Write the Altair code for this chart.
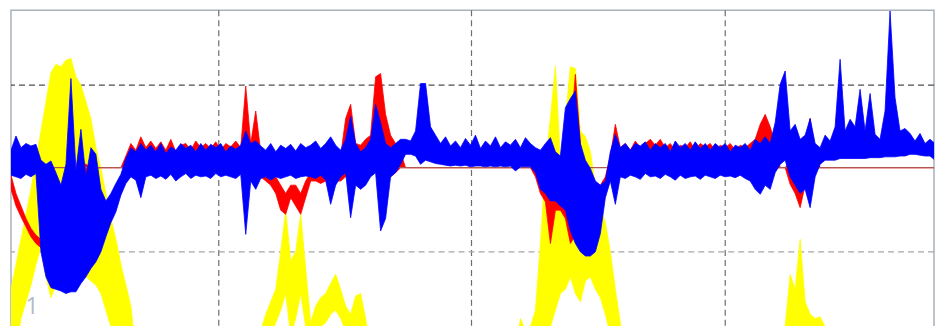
import altair as alt
import pandas as pd

# ---------------- data ----------------
# Signal columns every 5 time units (t = 0, 5, ..., 925).
# For every column: the local maximum ("hi") and local minimum ("lo") of the
# rapidly oscillating trace.  Values are in signal units (grid lines at +1 / -1).
STEP = 5

BLUE_HI = [
    0.22, 0.39, 0.25, 0.30, 0.27, 0.29, 0.10, 0.05, 0.09, -0.05,
    -0.20, 0.05, 1.08, -0.02, 0.47, -0.10, 0.25, 0.17, -0.25, -0.39,
    -0.30, -0.18, -0.07, 0.12, 0.25, 0.20, 0.30, 0.22, 0.28, 0.20,
    0.30, 0.18, 0.26, 0.22, 0.30, 0.24, 0.28, 0.20, 0.30, 0.22,
    0.29, 0.25, 0.30, 0.20, 0.27, 0.23, 0.28, 0.45, 0.30, 0.33,
    0.27, 0.22, 0.30, 0.20, 0.28, 0.24, 0.29, 0.21, 0.30, 0.25,
    0.28, 0.33, 0.24, 0.30, 0.38, 0.28, 0.22, 0.35, 0.63, 0.30,
    0.20, 0.25, 0.35, 0.77, 0.55, 0.30, 0.25, 0.30, 0.35, 0.35,
    0.33, 0.45, 1.02, 1.02, 0.50, 0.40, 0.30, 0.38, 0.27, 0.33,
    0.25, 0.36, 0.28, 0.40, 0.24, 0.33, 0.27, 0.38, 0.25, 0.32,
    0.28, 0.35, 0.25, 0.37, 0.30, 0.25, 0.22, 0.30, 0.37, 0.20,
    0.15, 0.73, 0.84, 0.93, 0.30, 0.10, 0.00, -0.15, -0.20, -0.15,
    0.20, 0.41, 0.25, 0.30, 0.22, 0.30, 0.27, 0.32, 0.22, 0.30,
    0.25, 0.30, 0.20, 0.33, 0.25, 0.30, 0.22, 0.32, 0.24, 0.30,
    0.22, 0.30, 0.25, 0.30, 0.20, 0.28, 0.25, 0.30, 0.22, 0.35,
    0.30, 0.38, 0.30, 0.55, 1.01, 1.17, 0.45, 0.53, 0.35, 0.40,
    0.60, 0.30, 0.25, 0.40, 0.33, 0.50, 1.31, 0.45, 0.59, 0.50,
    0.95, 0.45, 0.90, 0.41, 0.35, 0.69, 1.89, 0.85, 0.45, 0.48,
    0.42, 0.33, 0.42, 0.30, 0.35, 0.30,
]
BLUE_LO = [
    -0.08, -0.10, -0.12, -0.07, -0.10, -0.06, -1.00, -1.30, -1.43, -1.45,
    -1.47, -1.50, -1.48, -1.48, -1.38, -1.30, -1.20, -1.12, -1.00, -0.82,
    -0.65, -0.52, -0.32, -0.18, -0.10, -0.14, -0.35, -0.10, -0.08, -0.12,
    -0.09, -0.13, -0.07, -0.15, -0.10, -0.06, -0.12, -0.08, -0.10, -0.09,
    -0.12, -0.06, -0.10, -0.08, -0.10, -0.12, -0.07, -0.79, -0.15, -0.25,
    -0.12, -0.10, -0.14, -0.10, -0.12, -0.10, -0.08, -0.12, -0.10, -0.09,
    -0.10, -0.12, -0.08, -0.14, -0.43, -0.20, -0.10, -0.05, -0.59, -0.20,
    -0.25, -0.20, -0.10, -0.05, -0.75, -0.60, -0.10, -0.05, 0.05, 0.17,
    0.17, 0.15, 0.05, 0.10, 0.08, 0.06, 0.05, 0.04, 0.03, 0.04,
    0.03, 0.04, 0.02, 0.03, 0.03, 0.02, 0.03, 0.02, 0.03, 0.02,
    0.03, -0.03, 0.02, 0.02, 0.02, -0.05, -0.25, -0.30, -0.39, -0.39,
    -0.45, -0.50, -0.75, -0.90, -1.00, -1.05, -1.05, -1.00, -0.78, -0.35,
    -0.15, -0.43, -0.10, -0.12, -0.08, -0.10, -0.13, -0.06, -0.10, -0.09,
    -0.12, -0.07, -0.10, -0.14, -0.08, -0.12, -0.10, -0.09, -0.13, -0.08,
    -0.10, -0.12, -0.08, -0.10, -0.09, -0.11, -0.08, -0.12, -0.15, -0.25,
    -0.31, -0.20, -0.25, -0.05, 0.05, 0.10, -0.10, -0.20, -0.30, -0.25,
    -0.47, -0.10, 0.05, 0.10, 0.10, 0.10, 0.12, 0.12, 0.12, 0.12,
    0.12, 0.12, 0.13, 0.13, 0.13, 0.14, 0.14, 0.14, 0.15, 0.15,
    0.17, 0.17, 0.16, 0.15, 0.15, 0.10,
]

RED_HI = [
    -0.08, -0.30, -0.45, -0.60, -0.72, -0.80, -0.85, -0.78, -0.68, -0.58,
    -0.48, -0.38, -0.28, -0.15, 0.08, 0.05, 0.01, 0.01, 0.01, 0.01,
    0.01, 0.01, 0.01, 0.15, 0.30, 0.22, 0.38, 0.25, 0.33, 0.24,
    0.32, 0.22, 0.35, 0.20, 0.28, 0.30, 0.22, 0.33, 0.25, 0.30,
    0.24, 0.32, 0.22, 0.30, 0.26, 0.33, 0.25, 0.99, 0.30, 0.69,
    0.20, 0.10, 0.00, -0.10, -0.20, -0.30, -0.20, -0.20, -0.30, -0.15,
    -0.05, 0.10, 0.15, 0.08, 0.12, 0.10, 0.15, 0.60, 0.77, 0.30,
    0.28, 0.35, 0.40, 1.10, 1.14, 0.65, 0.40, 0.30, 0.20, 0.01,
    0.01, 0.01, 0.01, 0.01, 0.01, 0.01, 0.01, 0.01, 0.01, 0.01,
    0.01, 0.01, 0.01, 0.01, 0.01, 0.01, 0.01, 0.01, 0.01, 0.01,
    0.01, 0.01, 0.01, 0.01, 0.01, 0.01, 0.00, 0.10, -0.30, -0.20,
    -0.10, 0.20, 0.40, 1.13, 0.30, -0.20, -0.20, -0.20, -0.20, -0.10,
    0.15, 0.53, 0.25, 0.30, 0.22, 0.33, 0.25, 0.30, 0.35, 0.28,
    0.35, 0.25, 0.30, 0.22, 0.28, 0.25, 0.32, 0.22, 0.30, 0.26,
    0.30, 0.22, 0.28, 0.25, 0.30, 0.22, 0.28, 0.25, 0.30, 0.35,
    0.53, 0.65, 0.50, 0.30, 0.01, 0.01, 0.10, 0.20, 0.10, 0.30,
    0.60, 0.20, 0.01, 0.01, 0.01, 0.01, 0.01, 0.01, 0.01, 0.01,
    0.01, 0.01, 0.01, 0.01, 0.01, 0.01, 0.01, 0.01, 0.01, 0.01,
    0.01, 0.01, 0.01, 0.01, 0.01, 0.01,
]
RED_LO = [
    -0.25, -0.45, -0.58, -0.70, -0.82, -0.90, -0.95, -0.88, -0.78, -0.68,
    -0.58, -0.48, -0.38, -0.25, -0.10, -0.12, 0.01, 0.01, 0.01, 0.01,
    0.01, 0.01, 0.01, 0.00, -0.03, 0.02, -0.05, 0.00, -0.04, 0.02,
    -0.03, 0.00, -0.05, 0.02, -0.02, -0.04, 0.00, -0.03, 0.01, -0.05,
    0.00, -0.03, 0.01, -0.04, 0.00, -0.02, -0.05, -0.05, 0.00, -0.05,
    -0.10, -0.15, -0.20, -0.30, -0.50, -0.55, -0.35, -0.45, -0.55, -0.35,
    -0.15, -0.15, -0.18, -0.15, -0.19, -0.15, -0.15, -0.10, -0.10, -0.10,
    -0.15, -0.10, -0.05, 0.00, -0.10, -0.15, -0.10, -0.05, 0.01, 0.01,
    0.01, 0.01, 0.01, 0.01, 0.01, 0.01, 0.01, 0.01, 0.01, 0.01,
    0.01, 0.01, 0.01, 0.01, 0.01, 0.01, 0.01, 0.01, 0.01, 0.01,
    0.01, 0.01, 0.01, 0.01, 0.01, -0.10, -0.30, -0.40, -0.90, -0.50,
    -0.50, -0.60, -0.90, -0.80, -0.70, -0.80, -0.80, -0.80, -0.60, -0.30,
    -0.10, -0.10, -0.05, 0.00, -0.03, 0.02, -0.04, 0.00, -0.02, 0.01,
    -0.03, 0.00, -0.04, 0.01, -0.02, 0.00, -0.03, 0.01, -0.02, 0.00,
    -0.03, 0.01, -0.02, 0.00, -0.03, 0.01, -0.02, 0.00, -0.03, -0.05,
    0.00, 0.05, 0.00, 0.00, 0.01, 0.01, -0.19, -0.30, -0.47, -0.20,
    -0.10, 0.00, 0.01, 0.01, 0.01, 0.01, 0.01, 0.01, 0.01, 0.01,
    0.01, 0.01, 0.01, 0.01, 0.01, 0.01, 0.01, 0.01, 0.01, 0.01,
    0.01, 0.01, 0.01, 0.01, 0.01, 0.01,
]

# yellow trace: values of -2.2 are below the visible window
YEL_HI = [
    -1.45, -1.15, -0.85, -0.55, -0.25, 0.10, 0.45, 0.80, 1.15, 1.25,
    1.22, 1.30, 1.32, 1.10, 1.00, 0.80, 0.60, 0.25, 0.00, -0.30,
    -0.60, -0.85, -1.15, -1.40, -1.65, -2.2, -2.2, -2.2, -2.2, -2.2,
    -2.2, -2.2, -2.2, -2.2, -2.2, -2.2, -2.2, -2.2, -2.2, -2.2,
    -2.2, -2.2, -2.2, -2.2, -2.2, -2.2, -2.2, -2.2, -2.2, -2.2,
    -1.95, -1.75, -1.60, -1.45, -1.00, -0.51, -1.10, -1.00, -0.55, -1.20,
    -1.85, -1.65, -1.55, -1.50, -1.38, -1.27, -1.45, -1.65, -1.75, -1.53,
    -1.50, -1.80, -2.2, -2.2, -2.2, -2.2, -2.2, -2.2, -2.2, -2.2,
    -2.2, -2.2, -2.2, -2.2, -2.2, -2.2, -2.2, -2.2, -2.2, -2.2,
    -2.2, -2.2, -2.2, -2.2, -2.2, -2.2, -2.2, -2.2, -2.2, -2.2,
    -2.2, -2.2, -1.80, -1.95, -1.90, -1.70, -0.90, 0.05, 0.60, 1.23,
    0.10, 0.60, 1.22, 1.20, 0.45, 0.38, 0.20, -0.20, -0.45, -0.65,
    -1.00, -1.45, -1.85, -2.2, -2.2, -2.2, -2.2, -2.2, -2.2, -2.2,
    -2.2, -2.2, -2.2, -2.2, -2.2, -2.2, -2.2, -2.2, -2.2, -2.2,
    -2.2, -2.2, -2.2, -2.2, -2.2, -2.2, -2.2, -2.2, -2.2, -2.2,
    -2.2, -2.2, -2.2, -2.2, -2.2, -1.90, -1.27, -1.45, -0.85, -1.60,
    -1.75, -1.80, -1.78, -1.90, -2.2, -2.2, -2.2, -2.2, -2.2, -2.2,
    -2.2, -2.2, -2.2, -2.2, -2.2, -2.2, -2.2, -2.2, -2.2, -2.2,
    -2.2, -2.2, -2.2, -2.2, -2.2, -2.2,
]
YEL_LO = [
    -2.2, -2.2, -1.80, -1.60, -1.40, -1.15, -0.95, -1.30, -1.55, -1.40,
    -1.30, -1.35, -1.30, -1.30, -1.30, -1.30, -1.35, -1.40, -1.50, -1.70,
    -1.90, -2.2, -2.2, -2.2, -2.2, -2.2, -2.2, -2.2, -2.2, -2.2,
    -2.2, -2.2, -2.2, -2.2, -2.2, -2.2, -2.2, -2.2, -2.2, -2.2,
    -2.2, -2.2, -2.2, -2.2, -2.2, -2.2, -2.2, -2.2, -2.2, -2.2,
    -2.2, -2.2, -2.00, -1.85, -1.70, -1.50, -2.00, -1.80, -1.50, -1.90,
    -2.2, -2.00, -1.90, -1.85, -1.75, -1.70, -1.80, -1.95, -2.00, -1.90,
    -1.90, -2.2, -2.2, -2.2, -2.2, -2.2, -2.2, -2.2, -2.2, -2.2,
    -2.2, -2.2, -2.2, -2.2, -2.2, -2.2, -2.2, -2.2, -2.2, -2.2,
    -2.2, -2.2, -2.2, -2.2, -2.2, -2.2, -2.2, -2.2, -2.2, -2.2,
    -2.2, -2.2, -2.2, -2.2, -2.2, -2.2, -2.2, -2.00, -1.90, -1.70,
    -1.50, -1.45, -1.30, -1.50, -1.60, -1.35, -1.30, -1.45, -1.55, -1.75,
    -2.00, -2.2, -2.2, -2.2, -2.2, -2.2, -2.2, -2.2, -2.2, -2.2,
    -2.2, -2.2, -2.2, -2.2, -2.2, -2.2, -2.2, -2.2, -2.2, -2.2,
    -2.2, -2.2, -2.2, -2.2, -2.2, -2.2, -2.2, -2.2, -2.2, -2.2,
    -2.2, -2.2, -2.2, -2.2, -2.2, -2.2, -2.2, -2.2, -2.2, -2.2,
    -2.2, -2.2, -2.2, -2.2, -2.2, -2.2, -2.2, -2.2, -2.2, -2.2,
    -2.2, -2.2, -2.2, -2.2, -2.2, -2.2, -2.2, -2.2, -2.2, -2.2,
    -2.2, -2.2, -2.2, -2.2, -2.2, -2.2,
]

GRID_T = [208, 461, 715]                 # vertical dashed grid positions
GRID_V = [1.0, -1.0]                     # horizontal dashed grid positions
GRID_V_COLORS = ["#4d4d4d", "#a6a6a6"]
BASELINE = [0.01]
LABEL_T, LABEL_V, LABEL_TXT = [21], [-1.66], ["1"]

T_DOMAIN = [0, 924]
V_DOMAIN = [-1.9, 1.9]


def envelope(hi, lo):
    n = min(len(hi), len(lo))
    return pd.DataFrame({
        "t": [i * STEP for i in range(n)],
        "hi": hi[:n],
        "lo": lo[:n],
    })


xs = alt.Scale(domain=T_DOMAIN, nice=False, zero=False)
ys = alt.Scale(domain=V_DOMAIN, nice=False, zero=False)
X = alt.X("t:Q", scale=xs, axis=None)


def trace(hi, lo, color):
    df = envelope(hi, lo)
    band = alt.Chart(df).mark_area(
        color=color, clip=True, interpolate="linear", opacity=1,
        stroke=color, strokeWidth=0.8,
    ).encode(
        x=X,
        y=alt.Y("lo:Q", scale=ys, axis=None),
        y2="hi:Q",
    )
    return band


vgrid = alt.Chart(pd.DataFrame({"t": GRID_T})).mark_rule(
    color="#6e6e6e", strokeDash=[6, 4], strokeWidth=1.2
).encode(x=X)

hgrid = alt.Chart(pd.DataFrame({"v": GRID_V, "c": GRID_V_COLORS})).mark_rule(
    strokeDash=[6, 4], strokeWidth=1.2
).encode(y=alt.Y("v:Q", scale=ys, axis=None), color=alt.Color("c:N", scale=None))

base = alt.Chart(pd.DataFrame({"v": BASELINE})).mark_rule(
    color="#b0584e", strokeWidth=1.3
).encode(y=alt.Y("v:Q", scale=ys, axis=None))

label = alt.Chart(pd.DataFrame({"t": LABEL_T, "v": LABEL_V, "s": LABEL_TXT})).mark_text(
    fontSize=23, color="#b3bbc5", font="Open Sans", align="center", baseline="middle"
).encode(x=X, y=alt.Y("v:Q", scale=ys, axis=None), text="s:N")

chart = alt.layer(
    vgrid,
    hgrid,
    trace(YEL_HI, YEL_LO, "#ffff00"),
    trace(RED_HI, RED_LO, "#ff0000"),
    base,
    trace(BLUE_HI, BLUE_LO, "#0000ff"),
    label,
).properties(
    width=924,
    height=317,
    padding={"left": 2, "top": 1, "right": 0, "bottom": 0},
    background="white",
).configure_view(stroke="#a9b1ba", strokeWidth=1.5)

chart.save("out.html", embed_options={"renderer": "svg", "actions": False})
